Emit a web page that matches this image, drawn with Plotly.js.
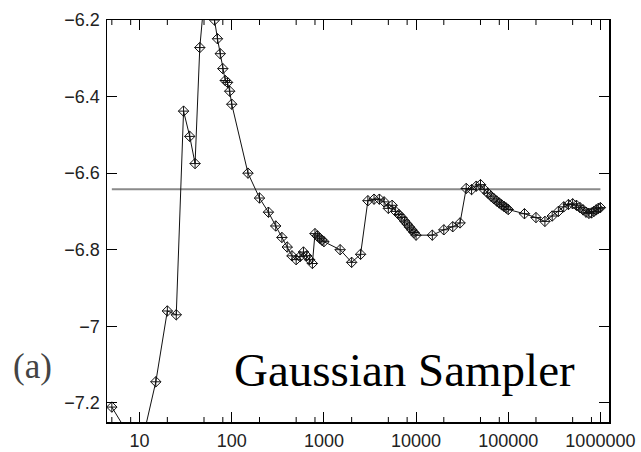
<!DOCTYPE html>
<html>
<head>
<meta charset="utf-8">
<script src="https://cdn.plot.ly/plotly-3.0.1.min.js"></script>
<style>html,body{margin:0;padding:0;background:#fff;}#chart{width:641px;height:452px;}</style>
</head>
<body>
<div id="chart"></div>
<script>
// Number of samples (x) and running estimate (y)
const sampleCounts = [
  5,10,15,20,25,30,35,40,45,50,55,60,65,70,75,80,85,90,95,100,
  150,200,250,300,350,400,450,500,550,600,650,700,750,800,850,900,950,1000,
  1500,2000,2500,3000,3500,4000,4500,5000,5500,6000,6500,7000,7500,8000,8500,9000,9500,10000,
  15000,20000,25000,30000,35000,40000,45000,50000,55000,60000,65000,70000,75000,80000,85000,90000,95000,100000,
  150000,200000,250000,300000,350000,400000,450000,500000,550000,600000,650000,700000,750000,800000,850000,900000,950000,1000000
];
const estimates = [
  -7.211,-7.33,-7.145,-6.960,-6.970,-6.438,-6.504,-6.575,-6.272,-6.15,-6.12,-6.16,-6.200,-6.249,-6.288,-6.327,-6.358,-6.363,-6.386,-6.420,
  -6.600,-6.665,-6.702,-6.738,-6.768,-6.793,-6.816,-6.826,-6.818,-6.806,-6.816,-6.826,-6.836,-6.758,-6.764,-6.770,-6.775,-6.779,
  -6.800,-6.833,-6.812,-6.672,-6.668,-6.668,-6.675,-6.692,-6.684,-6.700,-6.708,-6.716,-6.725,-6.733,-6.741,-6.748,-6.755,-6.762,
  -6.762,-6.748,-6.740,-6.730,-6.640,-6.643,-6.634,-6.630,-6.643,-6.652,-6.660,-6.667,-6.673,-6.678,-6.683,-6.687,-6.691,-6.695,
  -6.706,-6.716,-6.726,-6.712,-6.700,-6.688,-6.682,-6.680,-6.684,-6.690,-6.696,-6.702,-6.705,-6.704,-6.700,-6.696,-6.692,-6.690
];
// Reference (exact) value line
const referenceX = [5, 1000000];
const referenceY = [-6.642, -6.642];

const xTickVals = [10,100,1000,10000,100000,1000000];
const xTickText = ["10","100","1000","10000","100000","1000000"];
const xMinorVals = [5,8,20,50,80,200,500,800,2000,5000,8000,20000,50000,80000,200000,500000,800000];
const yTickVals = [-7.2,-7,-6.8,-6.6,-6.4,-6.2];

const plotHeightPx = 452 - 20 - 30;
const minorFrac = 5 / plotHeightPx;

const traces = [
  {x: referenceX, y: referenceY, type: 'scatter', mode: 'lines',
   line: {color: '#8a8a8a', width: 2}, hoverinfo: 'skip'},
  {x: sampleCounts, y: estimates, type: 'scatter', mode: 'lines+markers',
   line: {color: '#111', width: 1},
   marker: {symbol: 'diamond-cross-open', size: 8, color: '#111', line: {color: '#111', width: 1}}}
];

// minor tick marks on bottom and top axes (placed through the x axis scale)
const shapes = [];
xMinorVals.forEach(v => {
  shapes.push({type: 'line', xref: 'x', yref: 'paper', x0: v, x1: v, y0: 0, y1: minorFrac,
               line: {color: '#000', width: 1}});
  shapes.push({type: 'line', xref: 'x', yref: 'paper', x0: v, x1: v, y0: 1, y1: 1 - minorFrac,
               line: {color: '#000', width: 1}});
});

const axisCommon = {
  showline: true, linewidth: 1.5, linecolor: '#000', mirror: 'ticks',
  ticks: 'inside', ticklen: 10, tickwidth: 1, tickcolor: '#000',
  showgrid: false, zeroline: false
};

const layout = {
  width: 641, height: 452,
  margin: {l: 107, r: 32, t: 20, b: 30},
  paper_bgcolor: '#fff', plot_bgcolor: '#fff',
  showlegend: false,
  xaxis: Object.assign({}, axisCommon, {
    type: 'log', range: [Math.log10(4.43), Math.log10(1.24e6)],
    tickmode: 'array', tickvals: xTickVals, ticktext: xTickText,
    ticklabelstandoff: 2,
    tickfont: {family: 'Liberation Sans, Arial', size: 18, color: '#222'}
  }),
  yaxis: Object.assign({}, axisCommon, {
    range: [-7.25, -6.2],
    tickmode: 'array', tickvals: yTickVals,
    ticklabelstandoff: 2,
    tickfont: {family: 'Liberation Sans, Arial', size: 18, color: '#222'}
  }),
  shapes: shapes,
  annotations: [
    {text: 'Gaussian Sampler', xref: 'paper', yref: 'paper', x: 0.592, y: 0.13,
     xanchor: 'center', yanchor: 'middle', showarrow: false,
     font: {family: 'Liberation Serif, Times New Roman, serif', size: 47, color: '#000'}},
    {text: '(a)', xref: 'paper', yref: 'paper', x: -0.1485, y: 0.139,
     xanchor: 'center', yanchor: 'middle', showarrow: false,
     font: {family: 'Liberation Serif, Times New Roman, serif', size: 35, color: '#444'}}
  ]
};

Plotly.newPlot('chart', traces, layout, {displayModeBar: false, staticPlot: true});
</script>
</body>
</html>
